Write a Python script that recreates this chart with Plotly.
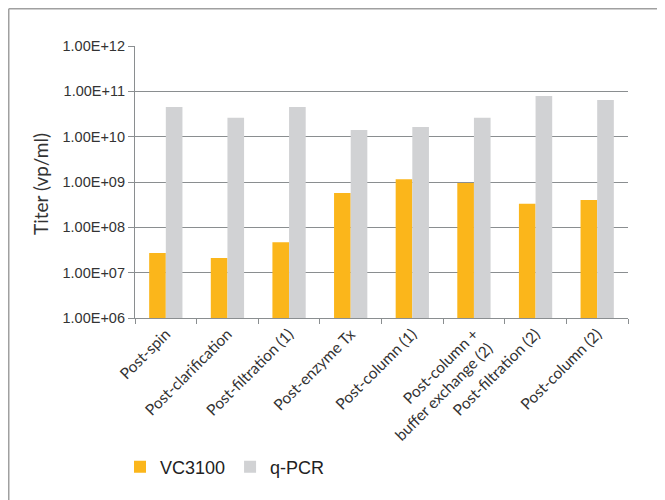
import plotly.graph_objects as go

categories = ["Post-spin", "Post-clarification", "Post-filtration (1)", "Post-enzyme Tx",
              "Post-column (1)", "Post-column +<br>buffer exchange (2)", "Post-filtration (2)",
              "Post-column (2)"]
vc3100 = [2.7e7, 2.1e7, 4.7e7, 5.7e8, 1.15e9, 9.5e8, 3.3e8, 4.0e8]
qpcr = [4.5e10, 2.6e10, 4.5e10, 1.4e10, 1.63e10, 2.6e10, 7.9e10, 6.4e10]
tick_vals = [1e6, 1e7, 1e8, 1e9, 1e10, 1e11, 1e12]
tick_text = ["1.00E+06", "1.00E+07", "1.00E+08", "1.00E+09", "1.00E+10", "1.00E+11", "1.00E+12"]

OFF = 8  # page body margin
W, H = 665 - OFF, 500 - OFF
# plot area in screen pixels
SL, SR, ST, SB = 135, 628, 46, 318
L, R, T, B = SL - OFF, SR - OFF, ST - OFF, SB - OFF

def px_x(p):
    return (p - OFF - L) / (R - L)

def px_y(p):
    return (B - (p - OFF)) / (B - T)

font_tick = "Liberation Sans Narrow, Arial Narrow, Liberation Sans, sans-serif"
font_cat = "Lato, Open Sans, sans-serif"
axis_col = "#8a8e90"

fig = go.Figure()
fig.add_trace(go.Bar(x=categories, y=vc3100, name="VC3100", marker_color="#FBB61B",
                     marker_line_width=0))
fig.add_trace(go.Bar(x=categories, y=qpcr, name="q-PCR", marker_color="#D1D2D4",
                     marker_line_width=0))

fig.update_layout(
    width=W, height=H,
    margin=dict(l=L, r=W - R, t=T, b=H - B),
    paper_bgcolor="white", plot_bgcolor="white",
    barmode="group", bargap=0.46, bargroupgap=0,
    font=dict(family=font_tick, color="#333333"),
    legend=dict(orientation="h", x=px_x(120), y=px_y(467), xanchor="left", yanchor="middle",
                font=dict(size=18, color="#222222"), itemwidth=30, traceorder="normal",
                bgcolor="rgba(0,0,0,0)"),
    showlegend=True,
)
fig.update_xaxes(
    showline=True, linecolor=axis_col, linewidth=1.2,
    ticks="outside", tickson="boundaries", ticklen=5, tickcolor=axis_col,
    tickangle=-45, tickfont=dict(size=15.5, color="#333333", family=font_cat),
    showgrid=False,
)
fig.update_yaxes(
    type="log", range=[6, 12],
    tickvals=tick_vals, ticktext=tick_text,
    showline=True, linecolor=axis_col, linewidth=1.2,
    ticks="outside", ticklen=6, tickcolor=axis_col,
    tickfont=dict(size=14.5, color="#333333"),
    showgrid=True, gridcolor=axis_col, gridwidth=1.2,
)
fig.add_annotation(text="Titer (vp/ml)", textangle=-90, xref="paper", yref="paper",
                   x=px_x(40), y=px_y(184), xanchor="center", yanchor="middle",
                   showarrow=False, font=dict(size=19, color="#333333", family=font_cat))

# outer frame (top and left visible edges)
fig.add_shape(type="line", xref="paper", yref="paper",
              x0=px_x(8.75), x1=px_x(700), y0=px_y(8.75), y1=px_y(8.75),
              line=dict(color="#a0a0a0", width=1.5))
fig.add_shape(type="line", xref="paper", yref="paper",
              x0=px_x(8.75), x1=px_x(8.75), y0=px_y(8.75), y1=px_y(520),
              line=dict(color="#a0a0a0", width=1.5))

fig.write_html("out.html")
